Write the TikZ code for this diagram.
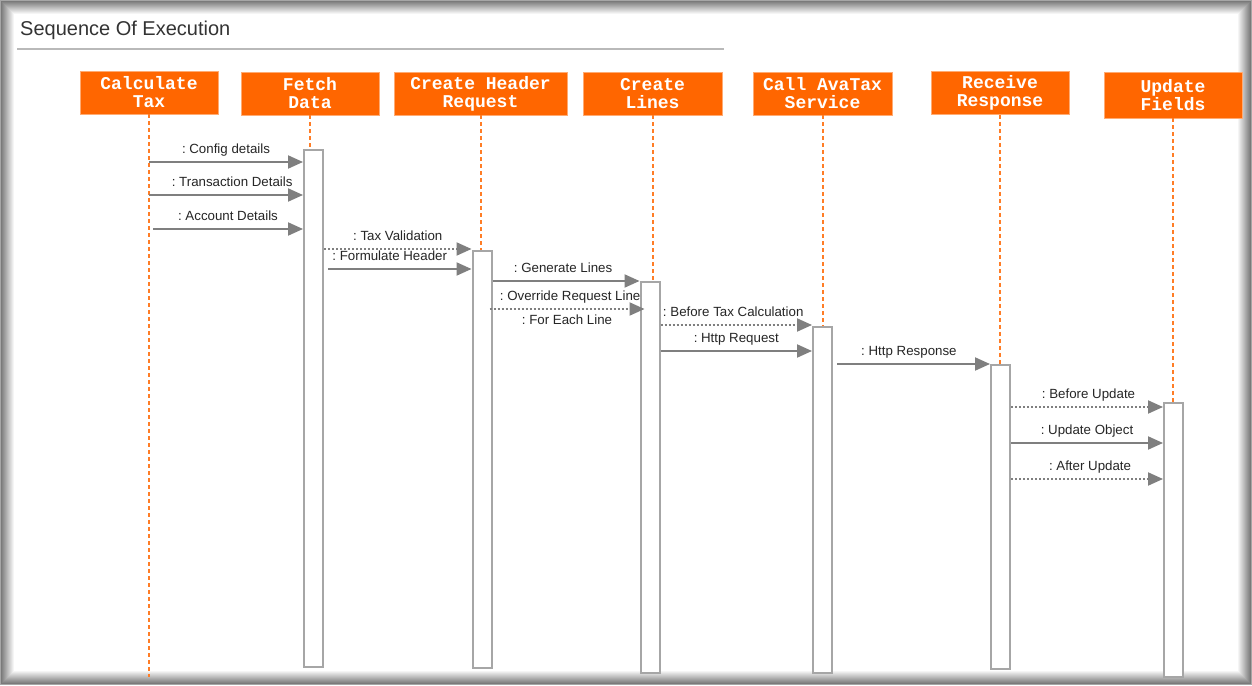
\documentclass[tikz,border=0pt]{standalone}
\usepackage{fontspec}
\setmainfont{Liberation Sans}
\newfontfamily\headmono{Liberation Mono}
\usetikzlibrary{arrows.meta}
\definecolor{avorange}{HTML}{FF6600}
\definecolor{msggray}{HTML}{7F7F7F}
\definecolor{bargray}{HTML}{A6A6A6}
\frenchspacing
\begin{document}
\begin{tikzpicture}[x=1pt,y=-1pt,
  head/.style={fill=avorange, draw=avorange!55!white, line width=0.8pt, minimum width=138pt, minimum height=43pt, align=center, text=white, font=\headmono\bfseries\fontsize{18}{18}\selectfont, inner sep=0pt},
  life/.style={avorange!85!white, line width=2pt, dash pattern=on 4pt off 3pt},
  actbar/.style={draw=bargray, fill=white, line width=2pt, minimum width=19pt, anchor=north, inner sep=0pt},
  msg/.style={msggray, line width=2pt, -{Triangle[length=15pt,width=13pt]}},
  reply/.style={msg, dash pattern=on 2pt off 2pt},
  lbl/.style={text=black!85, font=\fontsize{13.3}{14}\selectfont, inner sep=1pt, text height=9.5pt, text depth=2.7pt}]
\useasboundingbox (0,0) rectangle (1252,685);
\fill[black!35] (0,0) rectangle (1252,685);
\foreach \d in {1,...,14}{
  \pgfmathtruncatemacro{\c}{max(0,56-4*\d)}
  \fill[black!\c] (\d,\d) rectangle ({1252-\d},{685-\d});
}
\node[anchor=west, inner sep=0pt, text=black!80, font=\fontsize{20}{24}\selectfont] (title) at (20,30) {Sequence Of Execution};
\draw[gray!55, line width=2pt] (17,49) -- (724,49);
\node[head] (ctax) at (149,92.5){Calculate\\Tax};
\node[head] (fetch) at (310,93.5){Fetch\\Data};
\node[head, minimum width=173pt] (header) at (480.5,93.5){Create Header\\Request};
\node[head, minimum width=139pt] (lines) at (652.5,93.5){Create\\Lines};
\node[head, minimum width=139pt] (avatax) at (822.5,93.5){Call AvaTax\\Service};
\node[head] (receive) at (1000,93){Receive\\Response};
\node[head, minimum height=46pt] (update) at (1173,95){Update\\Fields};
\coordinate (ctaxend) at (149,677);
\node[actbar, minimum height=517pt] (fetchbar) at (313.5,149){};
\node[actbar, minimum height=417pt] (headerbar) at (482,250){};
\node[actbar, minimum height=391pt] (linesbar) at (650,281){};
\node[actbar, minimum height=346pt] (avabar) at (822.5,326){};
\node[actbar, minimum height=304pt] (recvbar) at (1000.5,364){};
\node[actbar, minimum height=274pt] (updbar) at (1173.5,402){};
\draw[life] (ctax.south) -- (ctaxend);
\draw[life] (fetch.south) -- (fetch.south |- fetchbar.north);
\draw[life] (header.south) -- (header.south |- headerbar.north);
\draw[life] (lines.south) -- (lines.south |- linesbar.north);
\draw[life] (avatax.south) -- (avatax.south |- avabar.north);
\draw[life] (receive.south) -- (receive.south |- recvbar.north);
\draw[life] (update.south) -- (update.south |- updbar.north);
\coordinate (cfg) at (149,162);
\coordinate (trans) at (149,195);
\coordinate (acct) at (153,229);
\draw[msg] (cfg) -- (fetchbar.west |- cfg) node[lbl, midway, above=4pt]{: Config details};
\draw[msg] (trans) -- (fetchbar.west |- trans) node[lbl, pos=0.54, above=4pt]{: Transaction Details};
\draw[msg] (acct) -- (fetchbar.west |- acct) node[lbl, midway, above=4pt]{: Account Details};
\coordinate (taxval) at (0,249);
\coordinate (formh) at (0,269);
\draw[reply] (fetchbar.east |- taxval) -- (headerbar.west |- taxval) node[lbl, midway, above=4pt]{: Tax Validation};
\draw[msg] ([xshift=4pt]fetchbar.east |- formh) -- (headerbar.west |- formh) node[lbl, pos=0.43, above=4pt]{: Formulate Header};
\coordinate (genl) at (0,281);
\coordinate (ovr) at (0,309);
\draw[msg] (headerbar.east |- genl) -- (linesbar.west |- genl) node[lbl, pos=0.48, above=4pt]{: Generate Lines};
\draw[reply] ([xshift=-3pt]headerbar.east |- ovr) -- ([xshift=5pt]linesbar.west |- ovr) node[lbl, pos=0.52, above=4pt]{: Override Request Line} node[lbl, pos=0.5, below=4pt]{: For Each Line};
\coordinate (btax) at (0,325);
\coordinate (hreq) at (0,351);
\draw[reply] (linesbar.east |- btax) -- (avabar.west |- btax) node[lbl, pos=0.48, above=4pt]{: Before Tax Calculation};
\draw[msg] (linesbar.east |- hreq) -- (avabar.west |- hreq) node[lbl, midway, above=4pt]{: Http Request};
\coordinate (hresp) at (0,364);
\draw[msg] ([xshift=4pt]avabar.east |- hresp) -- (recvbar.west |- hresp) node[lbl, pos=0.47, above=4pt]{: Http Response};
\coordinate (bupd) at (0,407);
\coordinate (uobj) at (0,443);
\coordinate (aupd) at (0,479);
\draw[reply] (recvbar.east |- bupd) -- (updbar.west |- bupd) node[lbl, pos=0.51, above=4pt]{: Before Update};
\draw[msg] (recvbar.east |- uobj) -- (updbar.west |- uobj) node[lbl, midway, above=4pt]{: Update Object};
\draw[reply] (recvbar.east |- aupd) -- (updbar.west |- aupd) node[lbl, pos=0.52, above=4pt]{: After Update};
\end{tikzpicture}
\end{document}
